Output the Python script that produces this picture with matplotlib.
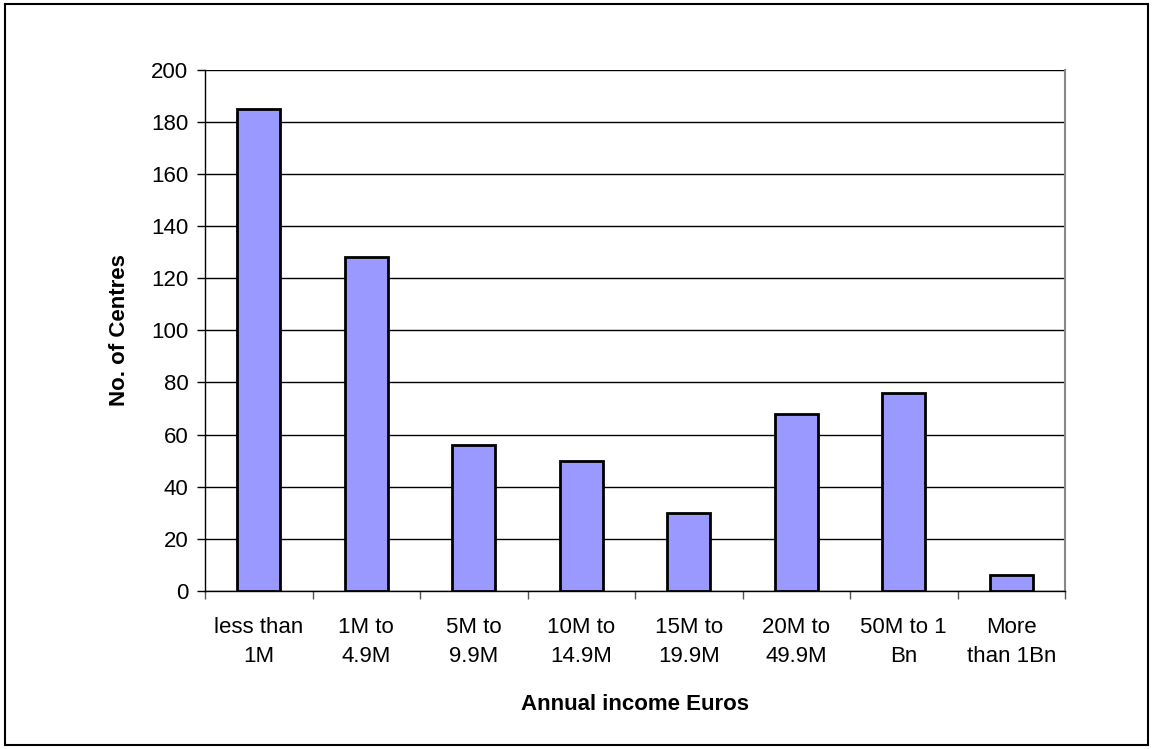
import matplotlib
matplotlib.use("Agg")
import matplotlib.pyplot as plt
import numpy as np
from matplotlib.patches import Rectangle

# income bands and number of centres in each
categorias = ["less than\n1M", "1M to\n4.9M", "5M to\n9.9M", "10M to\n14.9M",
              "15M to\n19.9M", "20M to\n49.9M", "50M to 1\nBn", "More\nthan 1Bn"]
centros = [185, 128, 56, 50, 30, 68, 76, 6]
y_ticks = [0, 20, 40, 60, 80, 100, 120, 140, 160, 180, 200]

plt.rcParams['font.family'] = ['Liberation Sans', 'DejaVu Sans']
tam = 16

fig = plt.figure(figsize=(11.53, 7.49), dpi=100)
ax = fig.add_axes([0.1778, 0.211, 0.7459, 0.6962])

x = np.arange(len(categorias))
ax.bar(x, centros, width=0.4, color='#9999FF', edgecolor='black', linewidth=2, zorder=3)

ax.set_xlim(-0.5, len(categorias) - 0.5)
ax.set_ylim(0, 200)
ax.set_yticks(y_ticks)
ax.tick_params(axis='y', labelsize=tam, direction='out', length=6, width=1, pad=6)
ax.yaxis.grid(True, color='black', linewidth=1, zorder=0)

# category labels centred on bars, ticks on the boundaries
ax.set_xticks(np.arange(len(categorias) + 1) - 0.5)
ax.set_xticklabels([])
ax.set_xticks(x, minor=True)
ax.set_xticklabels(categorias, minor=True, fontsize=tam, linespacing=1.45)
ax.tick_params(axis='x', which='major', direction='out', length=6, width=1, color='#555555')
ax.tick_params(axis='x', which='minor', length=0, pad=19)

ax.spines['top'].set_visible(False)
ax.spines['right'].set_color('#888888')
ax.spines['right'].set_linewidth(1.5)
ax.spines['left'].set_linewidth(1)
ax.spines['bottom'].set_linewidth(1)

ax.set_ylabel("No. of Centres", fontsize=tam, fontweight='bold', labelpad=15)
ax.set_xlabel("Annual income Euros", fontsize=tam, fontweight='bold', labelpad=20)

# moldura à volta da figura
fig.patches.append(Rectangle((0.004, 0.005), 0.992, 0.99, transform=fig.transFigure,
                             fill=False, edgecolor='black', linewidth=1.5))

fig.savefig("out.png", dpi=100)
